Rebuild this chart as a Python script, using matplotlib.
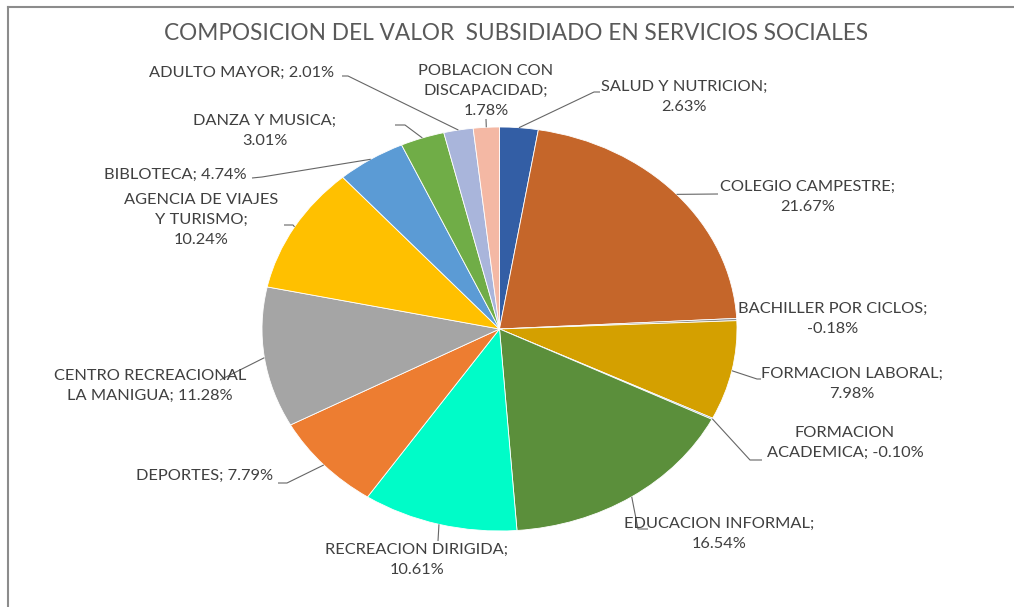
import matplotlib
matplotlib.use("Agg")
import matplotlib.pyplot as plt
from matplotlib.lines import Line2D
import numpy as np

# ---------------- data ----------------
title = "COMPOSICION DEL VALOR  SUBSIDIADO EN SERVICIOS SOCIALES"
categories = ["SALUD Y NUTRICION", "COLEGIO CAMPESTRE", "BACHILLER POR CICLOS",
              "FORMACION LABORAL", "FORMACION ACADEMICA", "EDUCACION INFORMAL",
              "RECREACION DIRIGIDA", "DEPORTES", "CENTRO RECREACIONAL LA MANIGUA",
              "AGENCIA DE VIAJES Y TURISMO", "BIBLOTECA", "DANZA Y MUSICA",
              "ADULTO MAYOR", "POBLACION CON DISCAPACIDAD"]
percentages = [2.63, 21.67, -0.18, 7.98, -0.10, 16.54, 10.61, 7.79, 11.28,
               10.24, 4.74, 3.01, 2.01, 1.78]
# how each category name is broken in its label
label_names = ["SALUD Y NUTRICION;\n", "COLEGIO CAMPESTRE;\n", "BACHILLER POR CICLOS;\n",
               "FORMACION LABORAL;\n", "FORMACION\nACADEMICA; ", "EDUCACION INFORMAL;\n",
               "RECREACION DIRIGIDA;\n", "DEPORTES; ", "CENTRO RECREACIONAL\nLA MANIGUA; ",
               "AGENCIA DE VIAJES\nY TURISMO;\n", "BIBLOTECA; ", "DANZA Y MUSICA;\n",
               "ADULTO MAYOR; ", "POBLACION CON\nDISCAPACIDAD;\n"]
colors = ["#335EA5", "#C5662A", "#8C8C8C", "#D4A000", "#4A7AB0", "#5B8F3B",
          "#00FCC8", "#ED7D31", "#A5A5A5", "#FFC000", "#5B9BD5", "#70AD47",
          "#A9B5DB", "#F4B8A4"]

# ---------------- layout (pixels) ----------------
W, H = 1014, 607
CX, CY, RX, RY = 499.5, 329.0, 237.5, 202.0

def p2d(px, py):
    return ((px - CX) / RX, (CY - py) / RY)

label_pos = [(684, 97), (808, 197), (833, 319), (852, 384), (845, 443),
             (719, 534), (417, 560), (205, 476), (150, 386), (201, 220),
             (175, 175), (265, 131), (242, 73), (486, 91)]
leader_pts = [
    [(594, 92), (600, 92)],
    [(718, 194)],
    [],
    [(757, 379), (761, 379)],
    [(750, 460), (762, 460)],
    [(638, 529), (648, 529)],
    [(438, 541)],
    [(287, 483), (278, 483)],
    [(220, 380)],
    [(293, 225), (284, 225)],
    [(262, 177), (252, 178)],
    [(405, 125), (395, 125)],
    [(348, 76), (342, 76)],
    [(486, 119)],
]

plt.rcParams["font.family"] = ["Lato", "DejaVu Sans"]

fig = plt.figure(figsize=(W / 100, H / 100), dpi=100)
ax = fig.add_axes([0, 0, 1, 1])

sizes = np.abs(percentages)
wedges, _ = ax.pie(sizes, colors=colors, startangle=90, counterclock=False,
                   radius=1.0, center=(0, 0),
                   wedgeprops=dict(edgecolor="white", linewidth=0.6))
ax.set_aspect("auto")
x0, y0 = p2d(0, H)
x1, y1 = p2d(W, 0)
ax.set_xlim(x0, x1)
ax.set_ylim(y0, y1)
ax.axis("off")

txt_color = "#404040"
for w, name, val, pos, pts in zip(wedges, label_names, percentages, label_pos, leader_pts):
    mid = np.deg2rad((w.theta1 + w.theta2) / 2)
    start = (np.cos(mid), np.sin(mid))
    if pts:
        xs = [start[0]] + [p2d(*p)[0] for p in pts]
        ys = [start[1]] + [p2d(*p)[1] for p in pts]
        ax.plot(xs, ys, color="#666666", lw=0.8, solid_capstyle="butt")
    tx, ty = p2d(*pos)
    ax.text(tx, ty, f"{name}{val:.2f}%", ha="center", va="center",
            fontsize=11.8, color=txt_color, linespacing=1.55, multialignment="center")

fig.text(516 / W, 1 - 34 / H, title, ha="center", va="center",
         fontsize=16.3, color="#595959")

# chart border (cropped at right and bottom)
fig.add_artist(Line2D([8 / W, 1], [1 - 7 / H, 1 - 7 / H], transform=fig.transFigure,
                      color="#8C8C8C", lw=1.5))
fig.add_artist(Line2D([8 / W, 8 / W], [0, 1 - 7 / H], transform=fig.transFigure,
                      color="#8C8C8C", lw=1.5))

fig.savefig("out.png", dpi=100, facecolor="white")
